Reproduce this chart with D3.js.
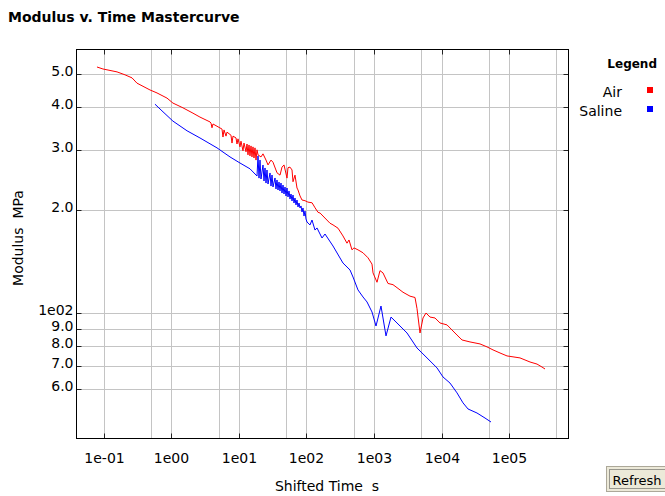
<!DOCTYPE html>
<html><head><meta charset="utf-8">
<script src="https://cdn.jsdelivr.net/npm/d3@7"></script>
<style>
body{margin:0;background:#fff;}
svg{display:block;font-family:"DejaVu Sans",Verdana,sans-serif;}
</style>
</head><body>
<svg id="chart" width="665" height="496"></svg>
<script>
// ---- data ----
const chartTitle = "Modulus v. Time Mastercurve";
const xAxisTitle = "Shifted Time  s";
const yAxisTitle = "Modulus  MPa";
const xTickValues = [0.1, 1, 10, 100, 1000, 1e4, 1e5];
const xTickLabels = ["1e-01", "1e00", "1e01", "1e02", "1e03", "1e04", "1e05"];
const xMinorGrid = [0.5, 5, 50, 500, 5000, 5e4, 5e5];
const yTickValues = [50, 40, 30, 20, 10, 9, 8, 7, 6];
const yTickLabels = ["5.0", "4.0", "3.0", "2.0", "1e02", "9.0", "8.0", "7.0", "6.0"];
const seriesNames = ["Air", "Saline"];
const seriesColors = ["#ff0000", "#0000ff"];

const airTime = [0.0787, 0.0966, 0.156, 0.205, 0.260, 0.308, 0.480, 0.610, 0.858, 1.05, 1.48, 2.08, 2.64, 3.72,
  3.85, 3.98, 4.12, 5.60, 5.79, 6.00, 6.42, 6.64, 7.61, 7.88, 8.15, 9.03, 9.34, 9.67, 10.35, 10.70, 11.46, 11.86, 12.70, 13.14, 13.59, 14.07, 14.55, 15.06, 15.58, 16.12, 16.68, 17.26, 17.86, 18.48,
  19.12, 21.18, 22.68, 25.12, 26.90, 29.80, 31.89, 36.56, 40.50, 43.36, 46.42, 51.42, 53.20, 56.96, 61.00, 63.10, 67.54, 72.32, 74.82, 80.13,
  85.77, 95.0, 105, 121, 134, 148, 159, 223, 247, 293, 347, 398, 426, 472, 505, 579, 687, 815, 934, 967,
  1108, 1227, 1359, 1612, 1912, 2268, 2690, 3415, 4050, 4336, 4803, 5320, 5894, 6754, 8013, 9502, 12060, 14300, 16970, 20130,
  26430, 37190, 47230, 57940, 73570, 93410, 145500, 204700, 259900, 308300, 341500];
const airModulus = [52.4, 51.7, 50.7, 49.7, 48.7, 47.0, 44.9, 44.0, 42.5, 41.1, 39.8, 38.4, 37.4, 36.2,
  35.9, 34.8, 35.7, 34.5, 32.7, 34.3, 32.9, 33.8, 33.1, 31.4, 32.9, 32.5, 31.2, 32.3, 30.6, 31.8, 29.8, 31.4, 29.6, 31.2, 29.0, 31.0, 28.8, 30.8, 28.6, 30.6, 28.4, 30.4, 28.0, 30.0,
  29.0, 28.6, 29.2, 28.0, 27.1, 28.0, 27.6, 25.7, 25.3, 26.7, 27.1, 24.8, 26.6, 26.7, 26.2, 24.2, 25.3, 23.2, 22.9, 22.0,
  21.4, 21.3, 21.1, 21.0, 20.3, 19.7, 19.6, 18.3, 18.1, 17.7, 16.8, 16.0, 16.35, 15.3, 15.5, 15.3, 15.0, 14.5, 13.9, 13.1,
  12.3, 13.3, 13.1, 12.2, 12.1, 11.8, 11.5, 11.2, 11.1, 10.3, 8.74, 9.67, 10.0, 9.73, 9.67, 9.35, 9.23, 8.92, 8.62, 8.34,
  8.23, 8.12, 7.96, 7.80, 7.64, 7.49, 7.39, 7.19, 7.09, 6.95, 6.86];

const salineTime = [0.569, 0.723, 1.05, 1.70, 2.64, 4.72, 7.36, 10.35, 14.55, 18.48,
  19.12, 19.79, 20.47, 21.18, 22.68, 23.47, 24.28, 25.12, 25.99, 26.90, 28.80, 29.80, 30.83, 31.89, 34.15,
  35.33, 36.56, 37.83, 39.14, 40.50, 41.90, 43.36, 44.86, 46.42, 48.03, 49.70, 51.42, 53.20, 55.05, 56.96,
  58.94, 61.00, 63.10, 65.29, 67.54, 69.89, 72.32, 74.82, 77.43, 80.13, 82.90, 85.77, 88.75, 91.83, 95.02, 98.31, 101.7,
  112.7, 120.6, 133.6, 143.0, 169.7, 188.0, 247, 347, 441, 489, 579, 687, 788, 934, 1071, 1269, 1506, 1786, 2191, 3083,
  4336, 6100, 8577, 10520, 13360, 16970, 20820, 24700, 33560, 44100, 54120];
const salineModulus = [40.8, 39.0, 36.4, 34.1, 32.5, 30.4, 28.6, 27.45, 26.4, 25.15,
  28.8, 24.8, 28.0, 24.65, 27.08, 24.32, 26.55, 23.99, 26.19, 23.83, 25.67, 23.51, 25.32, 23.36, 24.82,
  23.05, 24.49, 22.89, 24.15, 22.74, 23.99, 22.43, 23.67, 22.28, 23.36, 21.98, 23.2, 21.84, 22.74, 21.54,
  22.28, 21.26, 22.13, 20.97, 21.69, 20.70, 21.40, 20.42, 20.97, 20.28, 20.56, 19.74, 20.28, 19.21, 19.87, 18.83, 18.45,
  18.09, 18.70, 17.48, 17.73, 16.57, 17.02, 15.70, 14.00, 13.36, 12.74, 11.68, 11.14, 10.77, 10.07, 9.16, 10.48, 8.57, 9.73, 9.35, 8.74,
  7.90, 7.39, 6.91, 6.50, 6.24, 5.84, 5.46, 5.24, 5.10, 4.93, 4.80];

// ---- layout ----
const plot = {left: 76, right: 568, top: 49, bottom: 438};
const svg = d3.select("#chart");
const x = d3.scaleLog().domain([0.03848, 748200]).range([plot.left, plot.right]);
const y = d3.scaleLog().domain([4.31, 59.15]).range([plot.bottom, plot.top]);
const crisp = v => Math.round(v) + 0.5;

// title
svg.append("text").attr("x", 8).attr("y", 22)
  .style("font-weight", "bold").style("font-size", "14px").text(chartTitle);

// grid
const grid = svg.append("g").attr("stroke", "#c4c4c4").attr("stroke-width", 1);
grid.selectAll("line.v").data(xTickValues.concat(xMinorGrid)).join("line")
  .attr("x1", d => crisp(x(d))).attr("x2", d => crisp(x(d)))
  .attr("y1", plot.top).attr("y2", plot.bottom);
grid.selectAll("line.h").data(yTickValues).join("line")
  .attr("y1", d => crisp(y(d))).attr("y2", d => crisp(y(d)))
  .attr("x1", plot.left).attr("x2", plot.right);

// series
const line = d3.line().x(d => x(d[0])).y(d => y(d[1]));
const airData = airTime.map((t, i) => [t, airModulus[i]]);
const salineData = salineTime.map((t, i) => [t, salineModulus[i]]);
[airData, salineData].forEach((data, i) => {
  svg.append("path").datum(data).attr("d", line)
    .attr("fill", "none").attr("stroke", seriesColors[i]).attr("stroke-width", 1);
});

// axes
const fs = "14px";
const gBottom = svg.append("g").attr("transform", `translate(0,${plot.bottom + 0.5})`)
  .call(d3.axisBottom(x).tickValues(xTickValues).tickFormat((d, i) => xTickLabels[i]).tickSizeInner(-5).tickSizeOuter(0));
gBottom.selectAll("text").attr("y", 24).attr("dy", 0).style("font-size", fs).attr("fill", "#000");
const gTop = svg.append("g").attr("transform", `translate(0,${plot.top + 0.5})`)
  .call(d3.axisTop(x).tickValues(xTickValues).tickFormat("").tickSizeInner(-5).tickSizeOuter(0));
const yFmt = d => yTickLabels[yTickValues.indexOf(d)];
const gLeft = svg.append("g").attr("transform", `translate(${plot.left + 0.5},0)`)
  .call(d3.axisLeft(y).tickValues(yTickValues).tickFormat(yFmt).tickSizeInner(-5).tickSizeOuter(0).tickPadding(3));
gLeft.selectAll("text").attr("dy", 1).style("font-size", fs).attr("fill", "#000");
const gRight = svg.append("g").attr("transform", `translate(${plot.right + 0.5},0)`)
  .call(d3.axisRight(y).tickValues(yTickValues).tickFormat("").tickSizeInner(-5).tickSizeOuter(0));
[gBottom, gTop, gLeft, gRight].forEach(g => {
  g.select(".domain").remove();
  g.selectAll(".tick line").attr("stroke", "#222");
  g.attr("font-family", null);
});
gBottom.selectAll(".tick").attr("transform", d => `translate(${crisp(x(d))},0)`);
gTop.selectAll(".tick").attr("transform", d => `translate(${crisp(x(d))},0)`);
gLeft.selectAll(".tick").attr("transform", d => `translate(0,${crisp(y(d))})`);
gRight.selectAll(".tick").attr("transform", d => `translate(0,${crisp(y(d))})`);

// frame
svg.append("rect").attr("x", plot.left + 0.5).attr("y", plot.top + 0.5)
  .attr("width", plot.right - plot.left).attr("height", plot.bottom - plot.top)
  .attr("fill", "none").attr("stroke", "#000");

// axis titles
svg.append("text").attr("x", 327).attr("y", 491).attr("text-anchor", "middle")
  .style("font-size", fs).style("white-space", "pre").text(xAxisTitle);
svg.append("text").attr("transform", "translate(23,238) rotate(-90)").attr("text-anchor", "middle")
  .style("font-size", fs).style("white-space", "pre").text(yAxisTitle);

// legend
svg.append("text").attr("x", 657).attr("y", 68).attr("text-anchor", "end")
  .style("font-weight", "bold").style("font-size", "12px").text("Legend");
const leg = svg.selectAll("g.leg").data(seriesNames).join("g").attr("class", "leg")
  .attr("transform", (d, i) => `translate(0,${i * 19})`);
leg.append("text").attr("x", 622).attr("y", 97).attr("text-anchor", "end").style("font-size", fs).text(d => d);
leg.append("rect").attr("x", 647).attr("y", 87).attr("width", 6).attr("height", 6)
  .attr("fill", (d, i) => seriesColors[i]);

// refresh button
const btn = svg.append("g");
btn.append("rect").attr("x", 606.5).attr("y", 466.5).attr("width", 60).attr("height", 25)
  .attr("fill", "#ece9d8").attr("stroke", "#aca899");
btn.append("rect").attr("x", 609.5).attr("y", 469.5).attr("width", 60).attr("height", 19)
  .attr("fill", "none").attr("stroke", "#444").attr("stroke-dasharray", "1,1");
btn.append("text").attr("x", 637).attr("y", 485).attr("text-anchor", "middle")
  .style("font-size", "13px").text("Refresh");
</script>
</body></html>
